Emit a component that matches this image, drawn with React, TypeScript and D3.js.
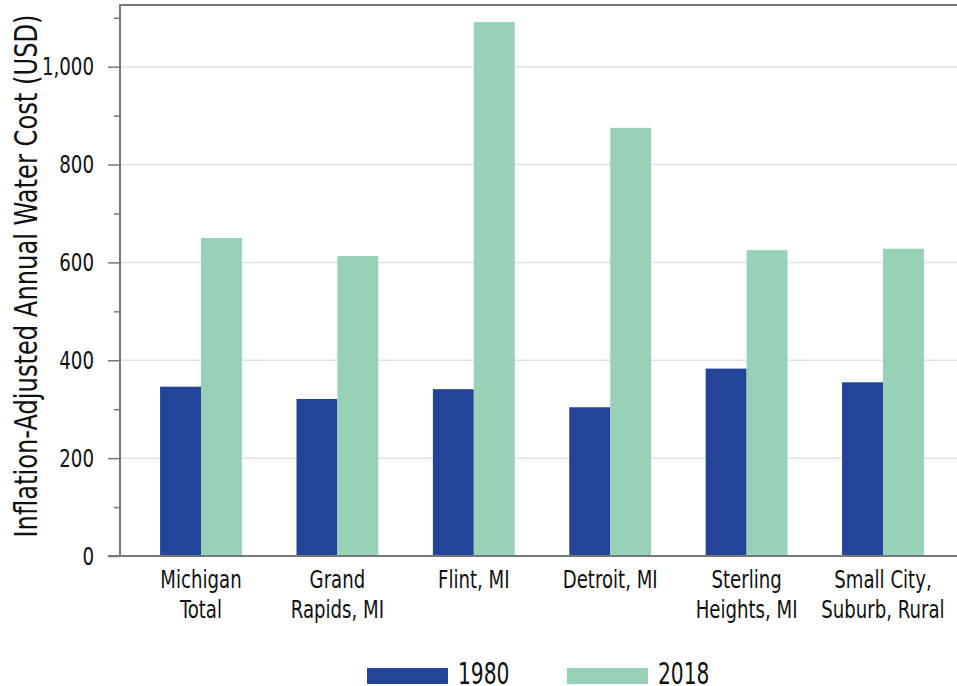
import React, { useRef, useEffect } from "react";
import * as d3 from "d3";

const CATEGORIES = [
  "Michigan\nTotal",
  "Grand\nRapids, MI",
  "Flint, MI",
  "Detroit, MI",
  "Sterling\nHeights, MI",
  "Small City,\nSuburb, Rural",
];
const SERIES = ["1980", "2018"];
const VALUES_1980 = [346, 321, 341, 304, 383, 355];
const VALUES_2018 = [650, 613, 1091, 875, 625, 628];
const MAJOR_TICKS = [0, 200, 400, 600, 800, 1000];
const MINOR_TICKS = [100, 300, 500, 700, 900, 1100];

const COLORS = ["#24449a", "#97d2b8"];
const WIDTH = 957;
const HEIGHT = 686;
// no condensed web font here, so DejaVu Sans Condensed squeezed horizontally
const FONT = "'DejaVu Sans Condensed', 'DejaVu Sans', sans-serif";

export default function App() {
  const svgRef = useRef<SVGSVGElement | null>(null);

  useEffect(() => {
    if (!svgRef.current) return;
    const svg = d3.select(svgRef.current);
    svg.selectAll("*").remove();

    const left = 120;
    const top = 5;
    const bottom = 556;

    const y = d3.scaleLinear().domain([0, 1126]).range([bottom, top]);
    const x = d3
      .scaleBand<string>()
      .domain(CATEGORIES)
      .range([left, 964])
      .paddingInner(0.4)
      .paddingOuter(0.294);
    const xs = d3.scaleBand<string>().domain(SERIES).range([0, x.bandwidth()]);

    // grid lines
    svg
      .append("g")
      .selectAll("line")
      .data(MAJOR_TICKS.filter((t) => t > 0))
      .join("line")
      .attr("x1", left)
      .attr("x2", WIDTH)
      .attr("y1", (d) => y(d))
      .attr("y2", (d) => y(d))
      .attr("stroke", "#e2e2e2")
      .attr("stroke-width", 1.5);

    // bars
    const rows = CATEGORIES.map((c, i) => ({ c, vals: [VALUES_1980[i], VALUES_2018[i]] }));
    const groups = svg
      .append("g")
      .selectAll("g")
      .data(rows)
      .join("g")
      .attr("transform", (d) => `translate(${x(d.c)},0)`);
    groups
      .selectAll("rect")
      .data((d) => d.vals.map((v, i) => ({ key: SERIES[i], v, i })))
      .join("rect")
      .attr("x", (d) => xs(d.key)!)
      .attr("width", xs.bandwidth())
      .attr("y", (d) => y(d.v))
      .attr("height", (d) => bottom - y(d.v))
      .attr("fill", (d) => COLORS[d.i]);

    // y axis major ticks
    svg
      .append("g")
      .attr("transform", `translate(${left},0)`)
      .call(d3.axisLeft(y).tickValues(MAJOR_TICKS).tickSize(12).tickFormat(d3.format(",")))
      .call((g) => g.select(".domain").remove())
      .call((g) => g.selectAll("line").attr("stroke", "#777").attr("stroke-width", 1.5))
      .call((g) =>
        g
          .selectAll("text")
          .attr("x", 0)
          .attr("transform", "translate(-26,0) scale(0.81,1)")
          .attr("font-family", FONT)
          .attr("font-size", 25)
          .attr("fill", "#111")
      );
    svg
      .append("g")
      .attr("transform", `translate(${left},0)`)
      .call(d3.axisLeft(y).tickValues(MINOR_TICKS).tickSize(6).tickFormat(() => ""))
      .call((g) => g.select(".domain").remove())
      .call((g) => g.selectAll("line").attr("stroke", "#777").attr("stroke-width", 1.5));

    // frame lines
    svg
      .append("line")
      .attr("x1", left)
      .attr("x2", left)
      .attr("y1", top)
      .attr("y2", bottom)
      .attr("stroke", "#777")
      .attr("stroke-width", 2);
    svg
      .append("line")
      .attr("x1", left - 1)
      .attr("x2", WIDTH)
      .attr("y1", top)
      .attr("y2", top)
      .attr("stroke", "#777")
      .attr("stroke-width", 2);
    svg
      .append("line")
      .attr("x1", left - 12)
      .attr("x2", WIDTH)
      .attr("y1", bottom)
      .attr("y2", bottom)
      .attr("stroke", "#777")
      .attr("stroke-width", 2);

    // category labels
    const labels = svg
      .append("g")
      .selectAll("text")
      .data(CATEGORIES)
      .join("text")
      .attr("transform", (d) => `translate(${x(d)! + x.bandwidth() / 2},588) scale(0.84,1)`)
      .attr("text-anchor", "middle")
      .attr("font-family", FONT)
      .attr("font-size", 24)
      .attr("fill", "#111");
    labels
      .selectAll("tspan")
      .data((d) => d.split("\n"))
      .join("tspan")
      .attr("x", 0)
      .attr("dy", (_, i) => (i === 0 ? 0 : 30))
      .text((d) => d);

    // y axis title
    svg
      .append("text")
      .attr("transform", "translate(37,276) rotate(-90) scale(0.84,1)")
      .attr("text-anchor", "middle")
      .attr("font-family", FONT)
      .attr("font-size", 32)
      .attr("fill", "#111")
      .text("Inflation-Adjusted Annual Water Cost (USD)");

    // legend
    const legendX = [367, 567];
    const legend = svg
      .append("g")
      .selectAll("g")
      .data(SERIES)
      .join("g")
      .attr("transform", (_, i) => `translate(${legendX[i]},668)`);
    legend
      .append("rect")
      .attr("width", 81)
      .attr("height", 16)
      .attr("fill", (_, i) => COLORS[i]);
    legend
      .append("text")
      .attr("transform", "translate(91,16) scale(0.75,1)")
      .attr("font-family", FONT)
      .attr("font-size", 30)
      .attr("fill", "#111")
      .text((d) => d);
  }, []);

  return (
    <svg
      ref={svgRef}
      width={WIDTH}
      height={HEIGHT}
      style={{ position: "absolute", left: 0, top: 0, background: "#fff" }}
    />
  );
}
